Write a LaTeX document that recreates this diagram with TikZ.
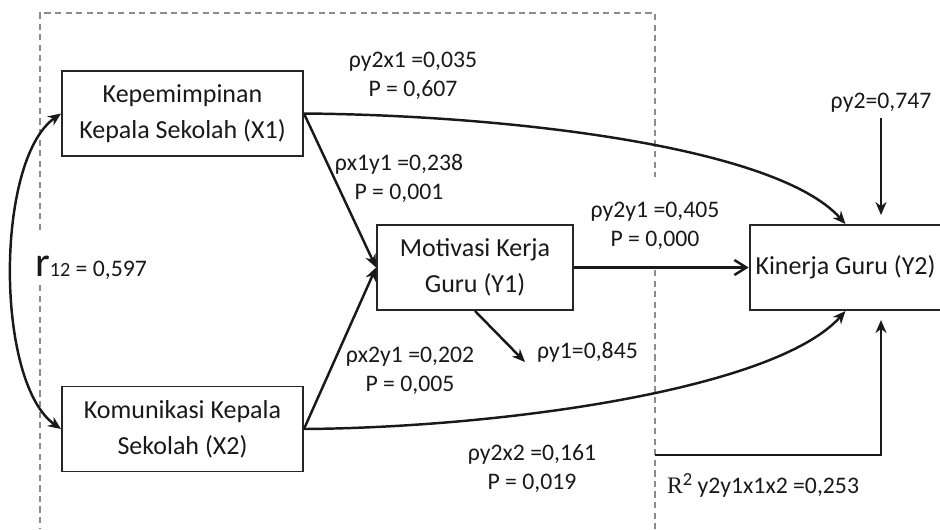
\documentclass[tikz,border=0pt]{standalone}
\usepackage{fontspec}
\setmainfont{Carlito}
\newfontfamily\serifR{Liberation Serif}
\usetikzlibrary{arrows.meta}

\begin{document}
\begin{tikzpicture}[
        >={Stealth[length=2.6mm,width=2.2mm]},
        kasten/.style={draw=black!85, line width=1.1pt, minimum width=4.82cm,
            minimum height=1.7cm, align=center, text=black!90,
            font=\fontsize{14.8}{20.5}\selectfont},
        wert/.style={align=center, inner sep=1pt, text=black!90,
            font=\fontsize{13.5}{16.5}\selectfont},
        pfeil/.style={->, draw=black!90, line width=1.4pt},
        rahmen/.style={draw=black!45, line width=.6pt, dash pattern=on 3.5pt off 2.5pt}
    ]
        \useasboundingbox (0,0) rectangle (18.8,-10.58);
        % Rahmen
        \draw[rahmen]
        (.8,-4.6) -- (.8,-.26) -- (13.1,-.26) -- (13.1,-3.54)
        (.8,-5.7) -- (.8,-10.58)
        (13.1,-5.4) -- (13.1,-10.58)
        ;
        % Kästen
        \node[kasten] (X1) at (3.65,-2.27) {Kepemimpinan\\Kepala Sekolah (X1)};
        \node[kasten] (X2) at (3.65,-8.58) {Komunikasi Kepala\\Sekolah (X2)};
        \node[kasten, minimum width=3.92cm] (Y1) at (9.5,-5.35) {Motivasi Kerja\\Guru (Y1)};
        \node[kasten, minimum width=3.7cm] (Y2) at (16.91,-5.35) {Kinerja Guru (Y2)};
        % Beschriftungen
        \node[wert] (Ly2x1) at (8.26,-1.52) {ρy2x1 =0,035\\P = 0,607};
        \node[wert] (Lx1y1) at (7.98,-3.56) {ρx1y1 =0,238\\P = 0,001};
        \node[wert] (Ly2y1) at (13.1,-4.52) {ρy2y1 =0,405\\P = 0,000};
        \node[wert] (Lx2y1) at (8.2,-7.42) {ρx2y1 =0,202\\P = 0,005};
        \node[wert] (Ly2x2) at (10.64,-9.36) {ρy2x2 =0,161\\P = 0,019};
        \node[wert] (Ly2) at (17.62,-2.06) {ρy2=0,747};
        \node[wert, anchor=west] (Ly1) at (10.7,-7.04) {ρy1=0,845};
        \node[wert, anchor=west] (Lr) at (.66,-5.36)
            {{\fontsize{24}{24}\selectfont r}{\fontsize{11.5}{11.5}\selectfont 12} = 0,597};
        \node[wert, anchor=west] (LR) at (13.3,-9.7)
            {{\serifR R}{\fontsize{10.5}{10.5}\selectfont\raisebox{.9ex}{2}} y2y1x1x2 =0,253};
        % Endpunkte
        \coordinate (e1) at (10.5,-7.24);
        \coordinate (e2) at (17.62,-4.3);
        \coordinate (r0) at (13.1,-9.1);
        \coordinate (e3) at (17.62,-6.4);
        % Pfeile
        \draw[pfeil] (X1.east) .. controls (10,-2.3) and (15.5,-2.9) .. (Y2.north);
        \draw[pfeil] (X2.east) .. controls (10,-8.55) and (15.5,-7.8) .. (Y2.south);
        \draw[pfeil, <->] (X1.west) .. controls (-.1,-3.2) and (-.1,-7.65) .. (X2.west);
        \draw[pfeil] (X1.east) -- (Y1.west);
        \draw[pfeil] (X2.east) -- (Y1.west);
        \draw[pfeil, -{Straight Barb[length=2.4mm,width=3mm]}] (Y1.east) -- (Y2.west);
        \draw[pfeil] (Y1.south) -- (e1);
        \draw[pfeil, shorten <=2pt] (Ly2.south) -- (e2);
        \draw[pfeil] (r0) -| (e3);
    \end{tikzpicture}
\end{document}
